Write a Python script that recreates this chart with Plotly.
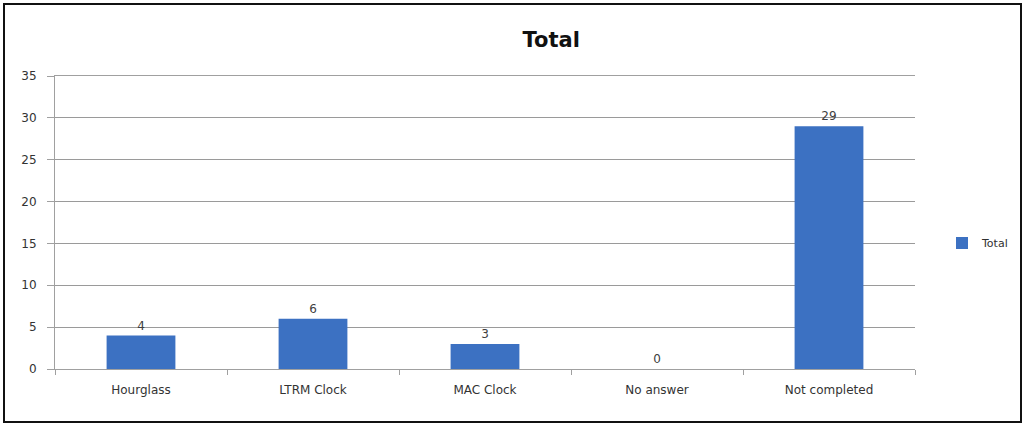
import plotly.graph_objects as go

categories = ["Hourglass", "LTRM Clock", "MAC Clock", "No answer", "Not completed"]
values = [4, 6, 3, 0, 29]
y_ticks = [0, 5, 10, 15, 20, 25, 30, 35]
series_name = "Total"

W, H = 1026, 426
L, R, T, B = 55, 915, 76, 369
pw, ph = R - L, B - T

def px(p):
    return (p - L) / pw

def py(p):
    return (B - p) / ph

fig = go.Figure()
fig.add_trace(go.Bar(
    x=categories, y=values, name=series_name,
    marker=dict(color="#3c71c2", line=dict(width=0)),
    text=[str(v) for v in values], textposition="outside",
    textfont=dict(family="DejaVu Sans", size=12, color="#404040"),
    cliponaxis=False, width=0.4, showlegend=True,
))

fig.update_layout(
    width=W, height=H,
    margin=dict(l=L, r=W - R, t=T, b=H - B, autoexpand=False),
    paper_bgcolor="white", plot_bgcolor="white",
    title=dict(text="<b>Total</b>", x=px(517), xanchor="center", y=1 - 40 / H, yanchor="middle",
               font=dict(family="DejaVu Sans", size=21, color="#111111")),
    xaxis=dict(showline=True, mirror=True, linecolor="#a0a0a0", linewidth=1, ticks="outside",
               tickson="boundaries", ticklen=5, tickcolor="#a0a0a0", showgrid=False,
               ticklabelstandoff=10,
               tickfont=dict(family="DejaVu Sans", size=12, color="#333333")),
    yaxis=dict(range=[0, 35], tickvals=y_ticks, showline=True, linecolor="#a0a0a0", linewidth=1,
               ticks="outside", ticklen=7, tickcolor="#a0a0a0", showgrid=True, gridcolor="#9a9a9a",
               gridwidth=1, zeroline=False, ticklabelstandoff=8,
               tickfont=dict(family="DejaVu Sans", size=12, color="#333333")),
    legend=dict(x=px(942), y=py(243), xanchor="left", yanchor="middle", bgcolor="rgba(0,0,0,0)",
                font=dict(family="DejaVu Sans", size=11, color="#303030"), itemwidth=30),
    bargap=0.6,
    shapes=[dict(type="rect", xref="paper", yref="paper", x0=px(4), x1=px(1021), y0=py(422), y1=py(4),
                 line=dict(color="#111111", width=2), layer="below")],
)

fig.write_html("out.html", config={"displayModeBar": False},
               post_script="document.body.style.margin='0';document.body.style.padding='0';")
